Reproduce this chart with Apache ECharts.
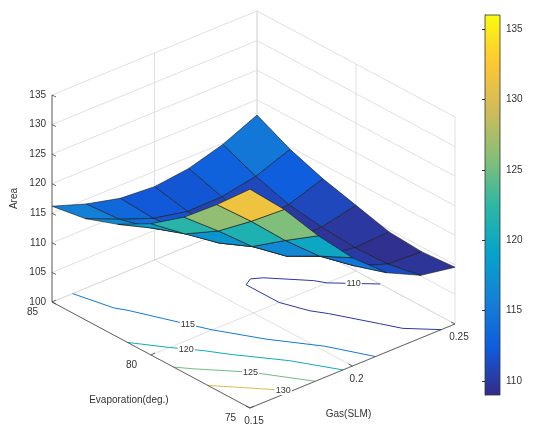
<!DOCTYPE html>
<html><head><meta charset="utf-8">
<script src="https://cdn.jsdelivr.net/npm/echarts@6/dist/echarts.min.js"></script>
<style>html,body{margin:0;padding:0;background:#fff}#c{width:539px;height:424px}</style>
</head><body><div id="c"></div>
<script>
const evapVals = [75, 76.67, 78.33, 80, 81.67, 83.33, 85];
const gasVals = [0.15, 0.1667, 0.1833, 0.2, 0.2167, 0.2333, 0.25];
// areaGrid[i][j]: i = evaporation index, j = gas index
const areaGrid = [
  [137, 131.2, 124.4, 118.3, 113.4, 110.6, 109.6],
  [131.4, 126.2, 120.6, 115.6, 111.6, 109.5, 109.2],
  [126.3, 121.6, 116.6, 112.6, 110.2, 109.3, 109.6],
  [122.2, 118.1, 114.2, 111.2, 109.6, 109.8, 111.1],
  [119.1, 116.1, 112.8, 110.6, 109.8, 110.6, 112.6],
  [117.1, 114.6, 112.4, 111.2, 111.3, 112.4, 114.6],
  [116.2, 114.2, 112.8, 112.4, 113.1, 114.8, 117.4]
];
const evapTicks = [75, 80, 85];
const gasTicks = [0.15, 0.2, 0.25];
const gasTickLabels = ['0.15', '0.2', '0.25'];
const areaTicks = [100, 105, 110, 115, 120, 125, 130, 135];
const contourLevels = [110, 115, 120, 125, 130];
const colorbarTicks = [110, 115, 120, 125, 130, 135];
const cMin = 109, cMax = 136;
const parula = ['#352A87','#0F5CDD','#1481D6','#06A4CA','#2EB7A4','#87BF77','#D1BB59','#FEC832','#F9FB0E'];

function P(e, g, z) {
  const ex = (e - 75) / 10, gx = (g - 0.15) / 0.1, zx = (z - 100) / 35;
  return [250 + gx * 205 - ex * 198, 408 - gx * 84 - ex * 106 - zx * 207];
}
function parulaAt(v) {
  let t = (v - cMin) / (cMax - cMin); t = Math.max(0, Math.min(1, t));
  const f = t * (parula.length - 1), k = Math.min(parula.length - 2, Math.floor(f)), r = f - k;
  const a = parula[k], b = parula[k + 1];
  const h = (s, o) => parseInt(s.substr(o, 2), 16);
  const c = [1, 3, 5].map(o => Math.round(h(a, o) * (1 - r) + h(b, o) * r));
  return 'rgb(' + c.join(',') + ')';
}

const cells = [];
for (let i = 0; i < 6; i++) for (let j = 0; j < 6; j++) {
  const avg = (areaGrid[i][j] + areaGrid[i + 1][j] + areaGrid[i][j + 1] + areaGrid[i + 1][j + 1]) / 4;
  cells.push([i, j, avg]);
}
cells.sort((a, b) => (b[0] + b[1]) - (a[0] + a[1]));

const segs = [];
contourLevels.forEach(L => {
  for (let i = 0; i < 6; i++) for (let j = 0; j < 6; j++) {
    const corners = [[i, j], [i + 1, j], [i + 1, j + 1], [i, j + 1]];
    const pts = [];
    for (let k = 0; k < 4; k++) {
      const a = corners[k], b = corners[(k + 1) % 4];
      const va = areaGrid[a[0]][a[1]], vb = areaGrid[b[0]][b[1]];
      if ((va - L) * (vb - L) < 0) {
        const t = (L - va) / (vb - va);
        pts.push([evapVals[a[0]] + t * (evapVals[b[0]] - evapVals[a[0]]), gasVals[a[1]] + t * (gasVals[b[1]] - gasVals[a[1]])]);
      }
    }
    if (pts.length >= 2) segs.push([L, pts[0][0], pts[0][1], pts[1][0], pts[1][1]]);
    if (pts.length === 4) segs.push([L, pts[2][0], pts[2][1], pts[3][0], pts[3][1]]);
  }
});

const chart = echarts.init(document.getElementById('c'));
const FONT = 'Liberation Sans';
const gridColor = '#d8d8d8';

function sceneItem(params, api) {
  const ch = [];
  const C = (e, g, z) => api.coord(P(e, g, z));
  const line = (p, q, col, w) => ch.push({type: 'line', shape: {x1: p[0], y1: p[1], x2: q[0], y2: q[1]}, style: {stroke: col, lineWidth: w || 0.8}});
  evapTicks.forEach(e => line(C(e, 0.15, 100), C(e, 0.25, 100), gridColor));
  gasTicks.forEach(g => line(C(75, g, 100), C(85, g, 100), gridColor));
  areaTicks.forEach(z => { line(C(85, 0.15, z), C(85, 0.25, z), gridColor); line(C(85, 0.25, z), C(75, 0.25, z), gridColor); });
  gasTicks.forEach(g => line(C(85, g, 100), C(85, g, 135), gridColor));
  evapTicks.forEach(e => line(C(e, 0.25, 100), C(e, 0.25, 135), gridColor));
  return {type: 'group', children: ch};
}
function axesItem(params, api) {
  const ch = [];
  const C = (e, g, z) => api.coord(P(e, g, z));
  const line = (p, q, col, w) => ch.push({type: 'line', shape: {x1: p[0], y1: p[1], x2: q[0], y2: q[1]}, style: {stroke: col, lineWidth: w || 0.8}});
  const text = (s, p, al, va) => ch.push({type: 'text', style: {text: s, x: p[0], y: p[1], fill: '#333', fontSize: 10, fontFamily: FONT, align: al, verticalAlign: va}});
  line(C(85, 0.15, 100), C(85, 0.15, 135), '#444');
  line(C(85, 0.15, 100), C(75, 0.15, 100), '#444');
  line(C(75, 0.15, 100), C(75, 0.25, 100), '#444');
  areaTicks.forEach(z => { const p = C(85, 0.15, z); line(p, [p[0] + 4, p[1] + 2], '#444'); text(String(z), [p[0] - 6, p[1]], 'right', 'middle'); });
  evapTicks.forEach(e => { const p = C(e, 0.15, 100); line(p, [p[0] + 4, p[1] - 2], '#444'); text(String(e), [p[0] - 14, p[1] + 10], 'right', 'middle'); });
  gasTicks.forEach((g, k) => { const p = C(75, g, 100); line(p, [p[0] - 4, p[1] - 2], '#444'); text(gasTickLabels[k], [p[0] + 4, p[1] + 13], 'center', 'middle'); });
  const a = C(85, 0.15, 117.5);
  ch.push({type: 'text', x: a[0] - 38, y: a[1], rotation: Math.PI / 2, style: {text: 'Area', x: 0, y: 0, fill: '#333', fontSize: 10, fontFamily: FONT, align: 'center', verticalAlign: 'middle'}});
  const b = C(79.5, 0.15, 100);
  text('Evaporation(deg.)', [b[0] - 32, b[1] + 40], 'center', 'middle');
  const g = C(75, 0.2, 100);
  text('Gas(SLM)', [g[0] - 4, g[1] + 48], 'center', 'middle');
  return {type: 'group', children: ch};
}

chart.setOption({
  animation: false,
  grid: [{left: 0, right: 0, top: 0, bottom: 0}, {left: 485, width: 15, top: 15, height: 380}],
  xAxis: [{type: 'value', min: 0, max: 539, show: false, gridIndex: 0},
          {type: 'value', min: 0, max: 1, show: false, gridIndex: 1}],
  yAxis: [{type: 'value', min: 0, max: 424, inverse: true, show: false, gridIndex: 0},
          {type: 'value', min: cMin, max: cMax, gridIndex: 1, position: 'right',
           axisLine: {show: true, lineStyle: {color: '#333', width: 0.8}},
           axisTick: {show: true, customValues: colorbarTicks, inside: true, length: 3, lineStyle: {color: '#333'}},
           axisLabel: {customValues: colorbarTicks, color: '#333', fontSize: 10, fontFamily: FONT, margin: 6},
           splitLine: {show: false}}],
  visualMap: {show: false, type: 'continuous', min: cMin, max: cMax, dimension: 2, seriesIndex: 2, inRange: {color: parula}},
  series: [
    {type: 'custom', xAxisIndex: 0, yAxisIndex: 0, data: [[0]], renderItem: sceneItem, silent: true},
    {type: 'custom', xAxisIndex: 0, yAxisIndex: 0, data: segs, silent: true,
     renderItem: (params, api) => {
       const L = api.value(0);
       const p = api.coord(P(api.value(1), api.value(2), 100)), q = api.coord(P(api.value(3), api.value(4), 100));
       return {type: 'line', shape: {x1: p[0], y1: p[1], x2: q[0], y2: q[1]}, style: {stroke: parulaAt(L), lineWidth: 1}};
     }},
    {type: 'custom', xAxisIndex: 0, yAxisIndex: 0, data: cells, silent: true,
     renderItem: (params, api) => {
       const i = api.value(0), j = api.value(1);
       const pts = [[i, j], [i + 1, j], [i + 1, j + 1], [i, j + 1]].map(c => api.coord(P(evapVals[c[0]], gasVals[c[1]], areaGrid[c[0]][c[1]])));
       return {type: 'polygon', shape: {points: pts}, style: {fill: api.visual('color'), stroke: '#1a1a1a', lineWidth: 0.6}};
     }},
    {type: 'custom', xAxisIndex: 0, yAxisIndex: 0, data: [[0]], renderItem: axesItem, silent: true},
    {type: 'custom', xAxisIndex: 0, yAxisIndex: 0, silent: true,
     data: contourLevels.map(L => [L]),
     renderItem: (params, api) => {
       const L = api.value(0);
       const mine = segs.filter(s => s[0] === L);
       if (!mine.length) return null;
       const s = mine[Math.floor(mine.length / 2)];
       const p = api.coord(P((s[1] + s[3]) / 2, (s[2] + s[4]) / 2, 100));
       return {type: 'text', style: {text: String(L), x: p[0], y: p[1], fill: '#333', fontSize: 9, fontFamily: FONT, align: 'center', verticalAlign: 'middle', backgroundColor: '#fff', padding: [0, 1]}};
     }},
    {type: 'custom', xAxisIndex: 1, yAxisIndex: 1, data: [[0]], silent: true,
     renderItem: (params, api) => {
       const a = api.coord([0, cMax]), b = api.coord([1, cMin]);
       return {type: 'rect', shape: {x: a[0], y: a[1], width: b[0] - a[0], height: b[1] - a[1]},
         style: {stroke: '#333', lineWidth: 0.8, fill: new echarts.graphic.LinearGradient(0, 1, 0, 0, parula.map((c, k) => ({offset: k / (parula.length - 1), color: c})))}};
     }}
  ]
});
</script></body></html>
